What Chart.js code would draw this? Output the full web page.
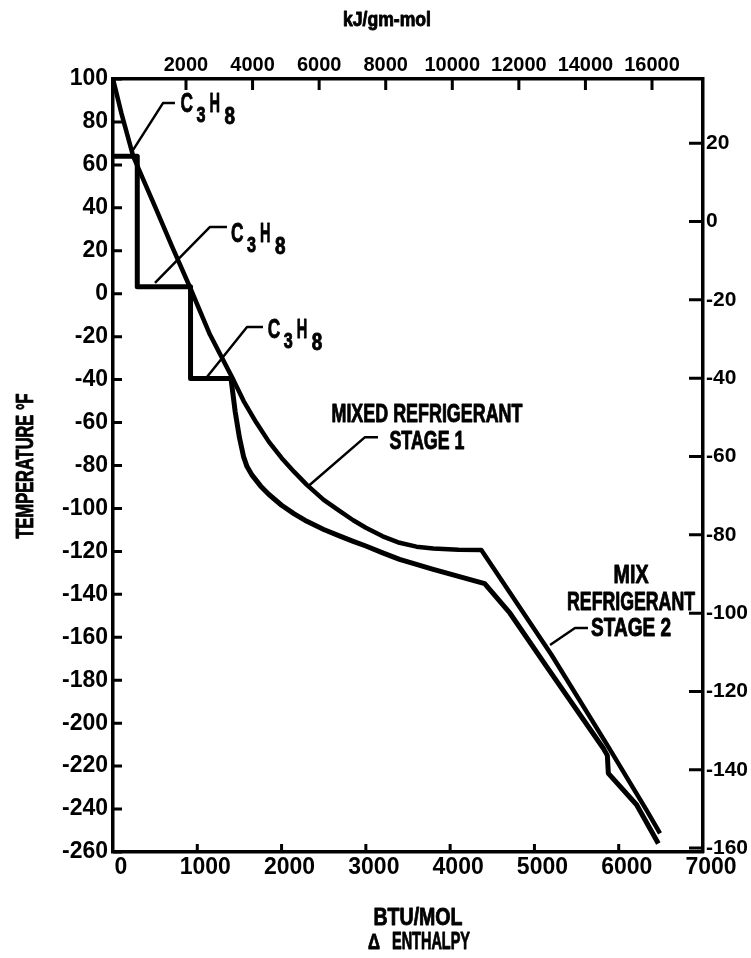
<!DOCTYPE html>
<html>
<head>
<meta charset="utf-8">
<script src="https://cdn.jsdelivr.net/npm/chart.js@4.4.1/dist/chart.umd.min.js"></script>
<style>
  html, body { margin: 0; padding: 0; background: #fff; }
  #wrap { width: 751px; height: 958px; position: relative; }
</style>
</head>
<body>
<div id="wrap"><canvas id="c" width="751" height="958"></canvas></div>
<script>
// Axis tick values
const enthalpyTicksBtu = [0, 1000, 2000, 3000, 4000, 5000, 6000, 7000];
const enthalpyTicksKj = [2000, 4000, 6000, 8000, 10000, 12000, 14000, 16000];
const tempTicksF = [100, 80, 60, 40, 20, 0, -20, -40, -60, -80, -100, -120, -140, -160, -180, -200, -220, -240, -260];
const tempTicksC = [20, 0, -20, -40, -60, -80, -100, -120, -140, -160];

// Feed gas cooling curve (BTU/mol, °F)
const feedGasBtu = [0, 100, 240, 500, 700, 913, 1150, 1427, 1550, 1700, 1850, 2000, 2150, 2300, 2500, 2700, 2850, 3000, 3200, 3400, 3600, 3800, 4100, 4370, 5200, 5850, 6330, 6490];
const feedGasF   = [100, 84, 64, 40.4, 22, 3, -19, -40, -50, -60, -69, -76.5, -83, -89, -96, -101.5, -105.5, -109, -113, -116, -117.8, -118.7, -119.2, -119.4, -168, -209.3, -240.5, -251.3];

// Refrigerant composite: three propane levels, then mixed refrigerant stages 1 and 2
const refrigBtu = [0, 288, 288, 920, 920, 1400, 1450, 1500, 1550, 1590, 1650, 1750, 1850, 2000, 2150, 2300, 2500, 2700, 2850, 3000, 3200, 3400, 3800, 4410, 4710, 5145, 5817, 5865, 5877, 6212, 6470];
const refrigF   = [64, 64, 3.3, 3.3, -39.5, -39.5, -55, -67, -76, -80.5, -84.5, -89.5, -93.5, -98.5, -102.5, -106, -109.8, -113, -115.3, -117.5, -120.7, -123.7, -128.4, -135, -148.8, -173.7, -211.7, -215, -223.4, -238, -256];

const SANS = '"Liberation Sans", Arial, sans-serif';
const INK = '#000';

function pairs(xs, ys) { return xs.map((x, i) => ({ x: x, y: ys[i] })); }
function fixedTicks(values) { return (scale) => { scale.ticks = values.map(v => ({ value: v })); }; }
const plainNumber = v => String(v);

// Callouts: leader line (data coords) and label text
const propaneCallouts = [
  { lead: [[735, 88.8], [593, 88.8], [237, 66.9]], at: [800, 84.6] },
  { lead: [[1352, 31.1], [1151, 31.1], [498, 5.0]], at: [1400, 24.1] },
  { lead: [[1780, -15.5], [1590, -15.5], [1115, -38.8]], at: [1835, -20.6] }
];
const stageCallouts = [
  { lead: [[3144, -66.8], [2990, -66.8], [2302, -90.1]], at: [3725, -59.8],
    lines: ['MIXED REFRIGERANT', 'STAGE 1'], widths: [191, 75] },
  { lead: [[5635, -155.7], [5481, -155.7], [5185, -163.6]], at: [6146, -134.8],
    lines: ['MIX', 'REFRIGERANT', 'STAGE 2'], widths: [35, 128, 80] }
];

// Draws heavy bold text, horizontally compressed so it spans `width` pixels
function fitText(ctx, text, x, y, size, width, align, rotate) {
  ctx.save();
  ctx.font = 'bold ' + size + 'px ' + SANS;
  ctx.textAlign = align;
  ctx.textBaseline = 'alphabetic';
  const w = ctx.measureText(text).width;
  ctx.translate(x, y);
  if (rotate) ctx.rotate(rotate);
  ctx.scale(width ? width / w : 1, 1);
  ctx.lineWidth = 0.9;
  ctx.lineJoin = 'round';
  ctx.strokeText(text, 0, 0);
  ctx.fillText(text, 0, 0);
  ctx.restore();
}

const decorations = {
  id: 'decorations',
  afterDatasetsDraw(chart) {
    const ctx = chart.ctx;
    const a = chart.chartArea;
    const sx = chart.scales.x, sy = chart.scales.y, sx2 = chart.scales.x2, sy2 = chart.scales.y2;
    ctx.save();
    ctx.strokeStyle = INK;
    ctx.fillStyle = INK;
    ctx.lineCap = 'butt';

    // inward tick marks
    ctx.lineWidth = 3;
    ctx.beginPath();
    sx.ticks.forEach(t => {
      if (t.value <= 0 || t.value >= 7000) return;
      const p = sx.getPixelForValue(t.value);
      ctx.moveTo(p, a.bottom); ctx.lineTo(p, a.bottom - 8);
    });
    sx2.ticks.forEach(t => {
      const p = sx2.getPixelForValue(t.value);
      ctx.moveTo(p, a.top); ctx.lineTo(p, a.top + 11);
    });
    sy.ticks.forEach(t => {
      const p = sy.getPixelForValue(t.value);
      ctx.moveTo(a.left, p); ctx.lineTo(a.left + 9, p);
    });
    sy2.ticks.forEach(t => {
      const p = sy2.getPixelForValue(t.value);
      ctx.moveTo(a.right, p); ctx.lineTo(a.right - 14, p);
    });
    ctx.stroke();

    // leader lines
    ctx.lineWidth = 2.5;
    ctx.lineJoin = 'round';
    [...propaneCallouts, ...stageCallouts].forEach(c => {
      ctx.beginPath();
      c.lead.forEach((pt, i) => {
        const px = sx.getPixelForValue(pt[0]), py = sy.getPixelForValue(pt[1]);
        if (i === 0) ctx.moveTo(px, py); else ctx.lineTo(px, py);
      });
      ctx.stroke();
    });

    // C3H8 labels with subscripts
    propaneCallouts.forEach(c => {
      const x = sx.getPixelForValue(c.at[0]), y = sy.getPixelForValue(c.at[1]);
      fitText(ctx, 'C', x, y, 28, 12.5, 'left');
      fitText(ctx, '3', x + 16, y + 10, 22, 9, 'left');
      fitText(ctx, 'H', x + 29, y, 28, 10.5, 'left');
      fitText(ctx, '8', x + 44, y + 12, 23, 10.5, 'left');
    });

    // refrigerant stage labels
    stageCallouts.forEach(c => {
      const x = sx.getPixelForValue(c.at[0]), y = sy.getPixelForValue(c.at[1]);
      c.lines.forEach((ln, i) => fitText(ctx, ln, x, y + i * 26.5, 25, c.widths[i], 'center'));
    });

    // axis titles
    fitText(ctx, 'kJ/gm-mol', 387, 26, 20, 88, 'center');
    fitText(ctx, 'TEMPERATURE °F', 33, 466, 23, 145, 'center', -Math.PI / 2);
    fitText(ctx, 'BTU/MOL', 418, 925, 24, 89, 'center');
    fitText(ctx, 'Δ', 374, 949, 22, 12, 'center');
    fitText(ctx, 'ENTHALPY', 431, 949, 24, 78, 'center');
    ctx.restore();
  }
};

const tickFont = { family: SANS, size: 23, weight: 'bold' };

new Chart(document.getElementById('c'), {
  type: 'line',
  data: {
    datasets: [
      { label: 'Feed gas', data: pairs(feedGasBtu, feedGasF), xAxisID: 'x', yAxisID: 'y',
        borderColor: INK, borderWidth: 4.5, pointRadius: 0, fill: false, tension: 0, borderJoinStyle: 'round' },
      { label: 'Refrigerant', data: pairs(refrigBtu, refrigF), xAxisID: 'x', yAxisID: 'y',
        borderColor: INK, borderWidth: 5, pointRadius: 0, fill: false, tension: 0, borderJoinStyle: 'round' }
    ]
  },
  options: {
    responsive: false,
    devicePixelRatio: 1,
    animation: false,
    layout: { padding: 0 },
    plugins: { legend: { display: false }, tooltip: { enabled: false }, title: { display: false } },
    scales: {
      x: {
        type: 'linear', position: 'bottom', min: 0, max: 7000,
        afterBuildTicks: fixedTicks(enthalpyTicksBtu),
        afterFit: s => { s.height = 106; },
        grid: { display: false, drawTicks: false },
        border: { display: true, color: INK, width: 3.5 },
        ticks: { color: INK, font: tickFont, padding: 2, labelOffset: 8, maxRotation: 0, autoSkip: false, callback: plainNumber }
      },
      x2: {
        type: 'linear', position: 'top', min: -193, max: 17532, display: true,
        afterBuildTicks: fixedTicks(enthalpyTicksKj),
        afterFit: s => { s.height = 79; },
        grid: { display: false, drawTicks: false },
        border: { display: true, color: INK, width: 3.5 },
        ticks: { color: INK, font: { family: SANS, size: 20, weight: 'bold' }, padding: 2, maxRotation: 0, autoSkip: false, callback: plainNumber }
      },
      y: {
        type: 'linear', position: 'left', min: -260, max: 100,
        afterBuildTicks: fixedTicks(tempTicksF),
        afterFit: s => { s.width = 113; },
        grid: { display: false, drawTicks: false },
        border: { display: true, color: INK, width: 3.5 },
        ticks: { color: INK, font: tickFont, padding: 5, autoSkip: false, callback: plainNumber }
      },
      y2: {
        type: 'linear', position: 'right', min: -161, max: 36.4, display: true,
        afterBuildTicks: fixedTicks(tempTicksC),
        afterFit: s => { s.width = 48; },
        grid: { display: false, drawTicks: false },
        border: { display: true, color: INK, width: 3.5 },
        ticks: { color: INK, font: { family: SANS, size: 21, weight: 'bold' }, padding: 3, autoSkip: false, callback: plainNumber }
      }
    }
  },
  plugins: [decorations]
});
</script>
</body>
</html>
